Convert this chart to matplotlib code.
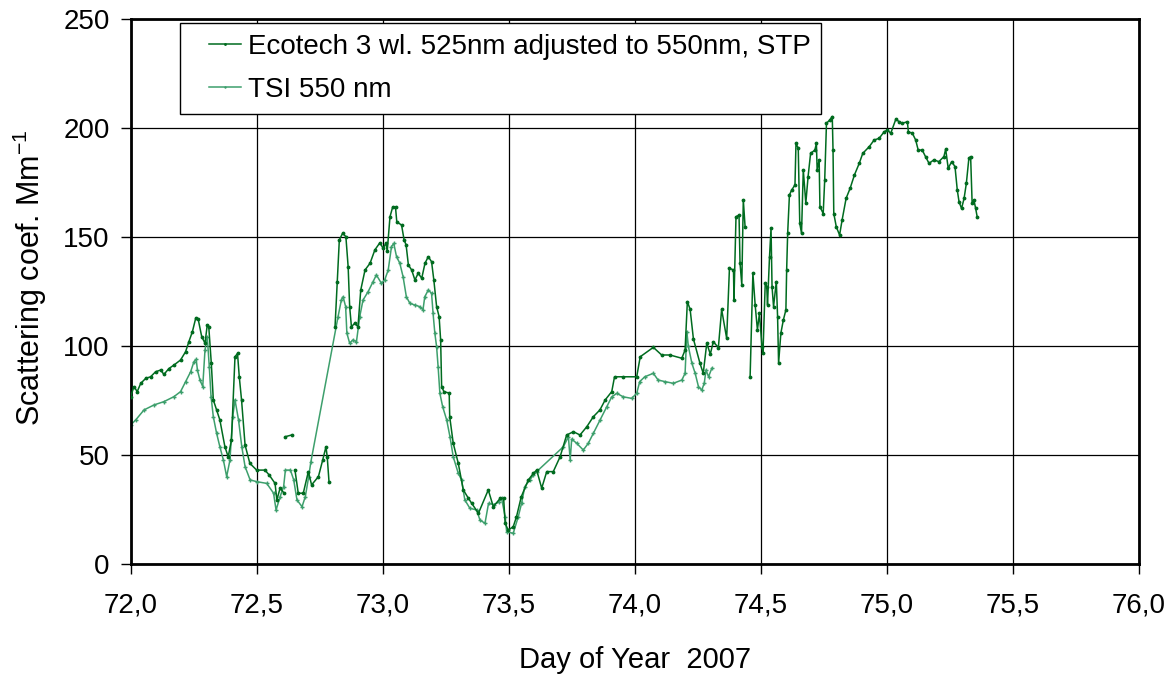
import numpy as np
import matplotlib
matplotlib.use('Agg')
import matplotlib.pyplot as plt
from matplotlib.ticker import FuncFormatter
from matplotlib.legend_handler import HandlerLine2D

plt.rcParams['font.family'] = ['Liberation Sans', 'DejaVu Sans']
plt.rcParams['mathtext.default'] = 'regular'

nan = np.nan

# Ecotech 3 wl. (525nm adjusted to 550nm, STP), day of year / Mm-1
eco_day = [72.000, 72.013, 72.026, 72.040, 72.060, 72.079, 72.099, 72.119, 72.132, 72.152,
           72.172, 72.198, 72.218, 72.231, 72.245, 72.258, 72.268, 72.282, 72.295, 72.304,
           72.310, 72.320, 72.328, 72.341, 72.354, 72.374, 72.387, 72.400, 72.414, 72.424,
           72.431, 72.440, 72.454, 72.473, 72.500, 72.533, 72.550, 72.573, 72.580, 72.593,
           72.607, nan, 72.613, 72.639, nan, 72.652, 72.665, 72.685, 72.705, 72.718,
           72.745, 72.762, 72.775, 72.780, 72.787, nan, 72.811, 72.820, 72.828, 72.841,
           72.854, 72.863, 72.869, 72.876, 72.889, 72.902, 72.913, 72.930, 72.950, 72.969,
           72.989, 73.002, 73.013, 73.018, 73.029, 73.040, 73.051, 73.056, 73.075, 73.085,
           73.093, 73.102, 73.115, 73.128, 73.141, 73.155, 73.168, 73.181, 73.194, 73.203,
           73.214, 73.224, 73.230, 73.234, 73.243, 73.264, 73.266, 73.280, 73.300, 73.320,
           73.340, 73.353, 73.380, 73.419, 73.439, 73.466, 73.480, 73.486, 73.498, 73.518,
           73.531, 73.550, 73.578, 73.598, 73.611, 73.631, 73.651, 73.677, 73.704, 73.730,
           73.757, 73.783, 73.810, 73.836, 73.862, 73.883, 73.909, 73.920, 73.955, 74.008,
           74.022, 74.074, 74.107, 74.140, 74.187, 74.200, 74.209, 74.220, 74.233, 74.259,
           74.272, 74.286, 74.300, 74.312, 74.332, 74.345, 74.365, 74.376, 74.392, 74.394,
           74.402, 74.414, 74.418, 74.425, 74.431, 74.438, nan, 74.458, 74.469, 74.478,
           74.487, 74.495, 74.505, 74.509, 74.518, 74.524, 74.527, 74.535, 74.541, 74.545,
           74.551, 74.562, 74.567, 74.571, 74.580, 74.590, 74.600, 74.603, 74.607, 74.614,
           74.623, 74.636, 74.640, 74.649, 74.655, 74.662, 74.669, 74.679, 74.688, 74.698,
           74.715, 74.721, 74.724, 74.732, 74.735, 74.748, 74.754, 74.761, 74.774, 74.784,
           74.787, 74.790, 74.800, 74.813, 74.823, 74.839, 74.855, 74.872, 74.891, 74.905,
           74.931, 74.950, 74.970, 74.990, 75.003, 75.016, 75.036, 75.050, 75.062, 75.082,
           75.086, 75.102, 75.115, 75.125, 75.141, 75.154, 75.168, 75.187, 75.207, 75.227,
           75.234, 75.244, 75.258, 75.271, 75.280, 75.287, 75.297, 75.307, 75.316, 75.326,
           75.333, 75.339, 75.346, 75.353, 75.359]
eco_val = [77.0, 81.6, 79.3, 83.1, 85.4, 86.1, 88.4, 89.2, 87.2, 89.9,
           91.5, 93.8, 97.6, 102.2, 106.8, 112.9, 112.5, 104.5, 101.5, 109.9,
           109.0, 92.3, 75.5, 70.9, 66.3, 54.0, 49.4, 57.1, 95.3, 96.8,
           86.1, 75.5, 54.8, 46.4, 43.3, 43.3, 41.0, 37.2, 29.6, 35.0,
           33.0, nan, 58.6, 59.4, nan, 43.3, 32.7, 32.7, 42.6, 36.5,
           40.3, 47.9, 54.0, 49.4, 38.0, nan, 109.1, 129.7, 148.9, 151.9,
           150.4, 136.6, 118.3, 109.1, 110.6, 109.1, 125.9, 135.1, 138.2, 144.3,
           147.6, 145.0, 147.5, 143.6, 159.5, 164.1, 163.8, 157.2, 155.7, 148.9,
           146.6, 137.4, 135.1, 130.5, 133.6, 131.3, 138.2, 141.2, 138.9, 130.5,
           118.3, 113.7, 103.0, 81.6, 79.3, 78.6, 67.8, 55.6, 46.4, 34.2,
           30.4, 28.1, 23.5, 34.2, 26.5, 30.3, 30.3, 18.9, 15.8, 17.3,
           21.9, 31.1, 38.8, 41.8, 43.3, 35.0, 42.6, 42.6, 49.4, 59.4,
           60.9, 59.4, 63.2, 67.8, 70.9, 75.5, 79.3, 86.1, 86.1, 86.1,
           95.3, 99.6, 96.1, 96.1, 94.6, 98.4, 120.6, 117.0, 103.5, 92.3,
           87.7, 101.5, 96.5, 102.2, 99.5, 117.0, 103.7, 135.9, 135.1, 121.4,
           159.5, 160.3, 138.2, 128.3, 167.2, 155.0, nan, 86.1, 133.6, 119.1,
           107.6, 115.2, 99.9, 96.8, 129.0, 127.5, 119.1, 141.2, 154.2, 127.5,
           118.3, 129.8, 113.7, 92.3, 106.1, 112.2, 116.8, 135.1, 151.9, 169.5,
           171.8, 174.1, 193.2, 190.9, 156.5, 151.9, 181.0, 165.7, 177.9, 188.6,
           190.1, 193.2, 181.0, 185.6, 164.1, 161.0, 176.4, 202.4, 203.9, 205.5,
           190.1, 161.0, 154.9, 151.1, 158.0, 168.0, 172.6, 178.7, 184.0, 188.6,
           191.7, 194.7, 195.5, 198.5, 199.3, 197.8, 204.2, 203.1, 202.4, 203.1,
           198.5, 197.8, 194.7, 190.1, 190.1, 187.1, 184.0, 185.6, 184.8, 187.1,
           190.5, 181.8, 184.8, 182.5, 171.8, 166.4, 163.3, 167.9, 174.8, 186.3,
           187.1, 165.7, 167.2, 163.3, 159.5]

# TSI nephelometer 550 nm
tsi_day = [72.000, 72.020, 72.053, 72.093, 72.132, 72.172, 72.198, 72.218, 72.238, 72.251,
           72.260, 72.265, 72.275, 72.286, 72.295, 72.304, 72.312, 72.319, 72.328, 72.341,
           72.354, 72.368, 72.381, 72.394, 72.405, 72.414, 72.428, 72.441, 72.454, 72.474,
           72.500, 72.540, 72.567, 72.577, 72.593, 72.607, 72.614, 72.634, 72.647, 72.660,
           72.680, 72.693, 72.706, 72.715, 72.823, 72.836, 72.843, 72.853, 72.858, 72.869,
           72.882, 72.896, 72.909, 72.922, 72.942, 72.962, 72.975, 72.995, 73.008, 73.022,
           73.035, 73.044, 73.055, 73.068, 73.081, 73.094, 73.108, 73.128, 73.147, 73.160,
           73.167, 73.181, 73.194, 73.200, 73.207, 73.214, 73.220, 73.227, 73.238, 73.254,
           73.267, 73.280, 73.300, 73.313, 73.326, 73.346, 73.373, 73.386, 73.406, 73.420,
           73.440, 73.460, 73.472, 73.486, 73.492, 73.518, 73.538, 73.551, 73.564, 73.584,
           73.598, 73.611, 73.717, 73.737, 73.744, 73.750, 73.770, 73.796, 73.816, 73.836,
           73.863, 73.889, 73.909, 73.929, 73.955, 73.988, 74.008, 74.020, 74.040, 74.074,
           74.093, 74.120, 74.153, 74.187, 74.200, 74.207, 74.213, 74.227, 74.240, 74.253,
           74.266, 74.276, 74.283, 74.293, 74.306]
tsi_val = [64.0, 66.3, 70.9, 73.2, 74.7, 77.0, 79.3, 83.9, 88.4, 93.0,
           94.1, 89.2, 84.6, 81.6, 98.4, 104.5, 90.7, 77.0, 67.8, 60.2,
           54.0, 47.9, 40.3, 47.9, 67.8, 75.5, 66.3, 54.0, 44.9, 38.8,
           38.0, 37.2, 32.7, 25.0, 31.1, 35.7, 43.3, 43.3, 38.8, 29.6,
           26.5, 31.1, 40.0, 47.0, 113.7, 121.3, 122.8, 118.3, 106.1, 101.5,
           103.0, 102.2, 113.7, 121.3, 125.1, 129.7, 132.8, 129.0, 130.5, 135.1,
           145.8, 147.3, 141.2, 138.2, 132.0, 122.8, 119.8, 119.0, 118.3, 116.8,
           122.8, 125.9, 124.4, 115.2, 106.1, 99.9, 90.7, 78.5, 72.4, 66.3,
           58.6, 49.4, 41.8, 38.8, 29.6, 25.8, 25.0, 20.4, 18.9, 28.0,
           27.5, 28.5, 30.3, 21.9, 15.0, 14.3, 21.9, 28.0, 35.7, 38.8,
           41.0, 42.6, 54.0, 58.6, 47.9, 57.5, 55.6, 52.5, 55.6, 60.2,
           66.3, 72.4, 76.9, 78.5, 76.9, 76.2, 78.5, 83.9, 86.1, 87.7,
           84.6, 83.9, 83.1, 84.6, 87.7, 106.8, 100.0, 92.3, 87.7, 81.6,
           80.0, 83.1, 89.2, 86.1, 90.0]

eco_color = '#006b1f'
tsi_color = '#3d9f6c'


class RightLineHandler(HandlerLine2D):
    # draw the legend line in the right part of the handle box only
    def create_artists(self, legend, orig_handle, xdescent, ydescent,
                       width, height, fontsize, trans):
        s = 0.37 * width
        return super().create_artists(legend, orig_handle, xdescent - s, ydescent,
                                      width - s, height, fontsize, trans)


fig = plt.figure(figsize=(11.76, 6.77), dpi=100)
ax = fig.add_axes([0.1111, 0.1662, 0.8572, 0.8050])

l1, = ax.plot(eco_day, eco_val, color=eco_color, lw=1.1, marker='.', ms=3.5,
              label='Ecotech 3 wl. 525nm adjusted to 550nm, STP', zorder=3)
l2, = ax.plot(tsi_day, tsi_val, color=tsi_color, lw=1.1, marker='+', ms=3.5, mew=1.0,
              label='TSI 550 nm', zorder=2)

ax.set_xlim(72, 76)
ax.set_ylim(0, 250)
ax.set_xticks(np.arange(72, 76.01, 0.5))
ax.set_yticks(np.arange(0, 251, 50))
ax.xaxis.set_major_formatter(FuncFormatter(lambda v, p: f'{v:.1f}'.replace('.', ',')))
ax.grid(True, color='black', lw=0.9)
ax.set_axisbelow(True)
for s in ax.spines.values():
    s.set_linewidth(2.0)
ax.tick_params(axis='both', direction='out', length=7, width=1, labelsize=20)
ax.tick_params(axis='x', pad=13)
ax.tick_params(axis='y', pad=8)

ax.set_xlabel('Day of Year  2007', fontsize=21, labelpad=20)
ax.set_ylabel('Scattering coef. Mm$^{-1}$', fontsize=22, labelpad=10)
ax.yaxis.label.set_y(0.527)

leg = ax.legend(loc='upper left', bbox_to_anchor=(0.0492, 0.993), borderaxespad=0,
                fontsize=20, frameon=True, fancybox=False, edgecolor='black',
                framealpha=1, handlelength=1.79, handletextpad=0.27,
                labelspacing=0.62, borderpad=0.38, markerscale=0.6,
                handler_map={l1: RightLineHandler(), l2: RightLineHandler()})
leg.get_frame().set_linewidth(1.0)

fig.savefig('out.png', dpi=100)
